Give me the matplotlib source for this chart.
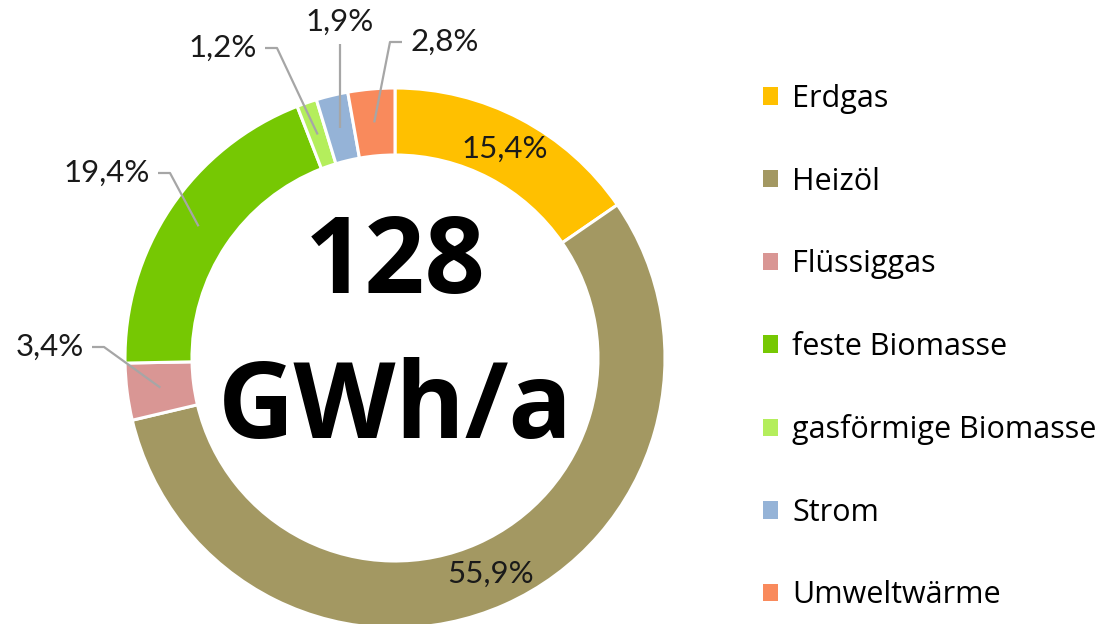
import matplotlib.pyplot as plt
import numpy as np
from matplotlib.patches import Patch

W, H = 1101, 624

categories = ["Erdgas", "Heizöl", "Flüssiggas", "feste Biomasse",
              "gasförmige Biomasse", "Strom", "Umweltwärme"]
shares = [15.4, 55.9, 3.4, 19.4, 1.2, 1.9, 2.8]
colors = ["#FFC000", "#A39862", "#D99694", "#76C803", "#B4EE5C", "#95B3D7", "#F98A5C"]
total_text = ["128", "GWh/a"]

# label placement: None = inside the ring, otherwise (text x, text y, ha) in pixels
label_pos = [None, None, (84, 347, "right"), (150, 173, "right"),
             (257, 48, "right"), (340, 22, "center"), (410, 42, "left")]

CX, CY = 395, H - 358
R_OUT, R_IN = 270, 203
LABEL_FONT = ["Lato", "DejaVu Sans"]
LEGEND_FONT = ["Open Sans", "DejaVu Sans"]


def px(x, y):
    return x, H - y


fig = plt.figure(figsize=(W / 100, H / 100), dpi=100)
ax = fig.add_axes([0, 0, 1, 1])

wedges, _ = ax.pie(
    shares, colors=colors, startangle=90, counterclock=False,
    radius=R_OUT, center=(CX, CY), frame=True,
    wedgeprops=dict(width=R_OUT - R_IN, edgecolor="white", linewidth=2.2),
)
ax.set_xlim(0, W)
ax.set_ylim(0, H)
ax.set_aspect("equal")
ax.axis("off")

r_mid = (R_OUT + R_IN) / 2
for w, share, pos in zip(wedges, shares, label_pos):
    ang = np.deg2rad((w.theta1 + w.theta2) / 2)
    mx, my = CX + r_mid * np.cos(ang), CY + r_mid * np.sin(ang)
    text = f"{share:.1f}%".replace(".", ",")
    if pos is None:
        ax.text(mx, my, text, ha="center", va="center", fontsize=22.5,
                family=LABEL_FONT, color="#1a1a1a")
        continue
    tx, ty, ha = pos
    tx, ty = px(tx, ty)
    ax.text(tx, ty, text, ha=ha, va="center", fontsize=22.5,
            family=LABEL_FONT, color="#1a1a1a")
    if ha == "center":
        xs, ys = [tx, tx], [ty - 22, my]
    elif ha == "right":
        xs, ys = [tx + 8, tx + 20, mx], [ty, ty, my]
    else:
        xs, ys = [tx - 8, tx - 20, mx], [ty, ty, my]
    ax.plot(xs, ys, color="#A6A6A6", lw=1.6, solid_capstyle="butt")

ax.text(CX, CY + 93, total_text[0], ha="center", va="center", fontsize=76,
        fontweight="bold", family=LEGEND_FONT, color="black")
ax.text(CX, CY - 52, total_text[1], ha="center", va="center", fontsize=76,
        fontweight="bold", family=LEGEND_FONT, color="black")

handles = [Patch(facecolor=c, edgecolor="none", label=l) for c, l in zip(colors, categories)]
leg = fig.legend(
    handles=handles, loc="upper left", bbox_to_anchor=(763 / W, 1 - 84 / H),
    frameon=False, handlelength=0.5, handleheight=0.5,
    handletextpad=0.45, labelspacing=1.72, borderaxespad=0, borderpad=0,
    prop={"family": LEGEND_FONT, "size": 22},
)

fig.savefig("out.png", dpi=100, facecolor="white")
